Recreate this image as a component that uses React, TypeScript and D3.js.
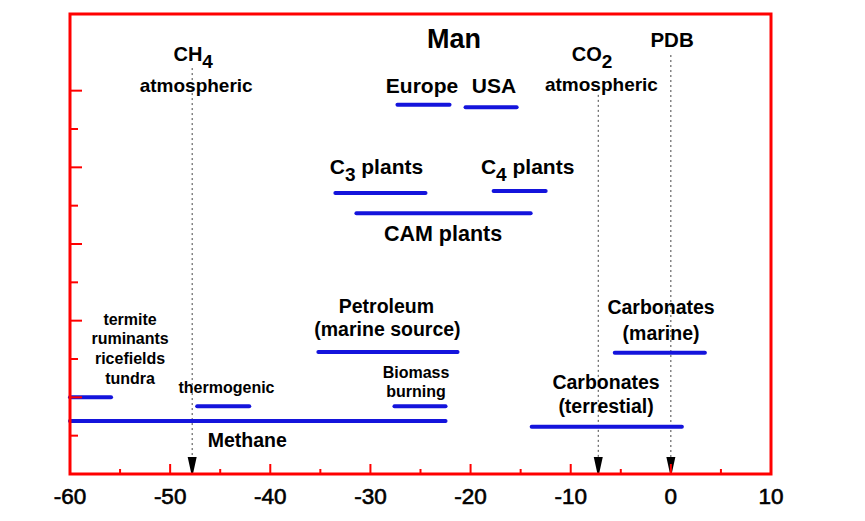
import React from "react";
import * as d3 from "d3";

// ---- data (delta 13C, per mil) ----
const xTicksMajor = [-60, -50, -40, -30, -20, -10, 0, 10];
const xTicksMinor = [-55, -45, -35, -25, -15, -5, 5];
const yTicks = [1, 2, 3, 4, 5, 6, 7, 8, 9, 10];

const rangeNames = ["Europe", "USA", "C3", "C4", "CAM", "Petroleum", "Biomass", "Methane", "termite", "thermogenic", "CarbTerr", "CarbMarine"];
const rangeStart = [-27.3, -20.5, -33.5, -17.7, -31.4, -35.2, -27.6, -60, -60, -47.3, -13.9, -5.6];
const rangeEnd = [-22.1, -15.4, -24.5, -12.5, -14.0, -21.3, -22.5, -22.5, -55.9, -42.1, 1.1, 3.4];
const rangeLevel = [9.63, 9.57, 7.33, 7.38, 6.8, 3.18, 1.77, 1.38, 2.0, 1.77, 1.23, 3.16];

const refNames = ["CH4", "CO2", "PDB"];
const refValues = [-47.8, -7.25, 0];
const refTop = [10.59, 9.89, 10.93];

// label anchors (data units)
type Lab = { t: string; sub?: string; rest?: string; x: number; y: number; size: number; subSize?: number };
const labels: Lab[] = [
  { t: "Man", x: -21.65, y: 11.11, size: 27 },
  { t: "Europe", x: -24.85, y: 9.94, size: 21 },
  { t: "USA", x: -17.66, y: 9.94, size: 21 },
  { t: "CH", sub: "4", x: -47.7, y: 10.77, size: 20, subSize: 19 },
  { t: "atmospheric", x: -47.4, y: 9.97, size: 19 },
  { t: "CO", sub: "2", x: -7.87, y: 10.77, size: 20, subSize: 19 },
  { t: "atmospheric", x: -6.93, y: 9.99, size: 19 },
  { t: "PDB", x: 0.12, y: 11.14, size: 20.5 },
  { t: "C", sub: "3", rest: " plants", x: -29.4, y: 7.83, size: 21, subSize: 19 },
  { t: "C", sub: "4", rest: " plants", x: -14.3, y: 7.83, size: 21, subSize: 19 },
  { t: "CAM plants", x: -22.75, y: 6.08, size: 21.5 },
  { t: "Petroleum", x: -28.4, y: 4.2, size: 19.5 },
  { t: "(marine source)", x: -28.3, y: 3.6, size: 19.5 },
  { t: "Biomass", x: -25.45, y: 2.5, size: 16 },
  { t: "burning", x: -25.45, y: 2.01, size: 16 },
  { t: "termite", x: -54.0, y: 3.89, size: 16 },
  { t: "ruminants", x: -54.0, y: 3.39, size: 16 },
  { t: "ricefields", x: -54.0, y: 2.87, size: 16 },
  { t: "tundra", x: -54.0, y: 2.35, size: 16 },
  { t: "thermogenic", x: -44.37, y: 2.11, size: 16 },
  { t: "Methane", x: -42.3, y: 0.7, size: 19.5 },
  { t: "Carbonates", x: -0.98, y: 4.17, size: 19.5 },
  { t: "(marine)", x: -0.98, y: 3.5, size: 19.5 },
  { t: "Carbonates", x: -6.47, y: 2.22, size: 19.5 },
  { t: "(terrestial)", x: -6.47, y: 1.59, size: 19.5 },
];

const W = 865;
const H = 521;
const FONT = "'Liberation Sans', Arial, Helvetica, sans-serif";
const RED = "#ff0000";
const BLUE = "#1414dc";

export default function App() {
  const x = d3.scaleLinear().domain([-60, 10]).range([70, 771]);
  const y = d3.scaleLinear().domain([0, 12]).range([474, 14]);
  const [x0, x1] = x.range();
  const [yb, yt] = y.range();

  const arrow = (cx: number) => {
    const p = d3.path();
    p.moveTo(cx - 4.5, yb - 17);
    p.lineTo(cx + 4.5, yb - 17);
    p.lineTo(cx + 1, yb - 1);
    p.lineTo(cx - 1, yb - 1);
    p.closePath();
    return p.toString();
  };

  return (
    <svg width={W} height={H} style={{ position: "absolute", left: 0, top: 0, background: "#fff" }}>
      {/* reference lines */}
      {refNames.map((n, i) => (
        <g key={n}>
          <line x1={x(refValues[i])} x2={x(refValues[i])} y1={y(refTop[i])} y2={yb - 16}
            stroke="#444" strokeWidth={1} strokeDasharray="2,3" />
          <path d={arrow(x(refValues[i]))} fill="#000" />
        </g>
      ))}

      {/* ranges */}
      {rangeNames.map((n, i) => (
        <line key={n} x1={x(rangeStart[i])} x2={x(rangeEnd[i])} y1={y(rangeLevel[i])} y2={y(rangeLevel[i])}
          stroke={BLUE} strokeWidth={4} strokeLinecap="round" />
      ))}

      {/* frame */}
      <rect x={x0} y={yt} width={x1 - x0} height={yb - yt} fill="none" stroke={RED} strokeWidth={3} />

      {/* y ticks */}
      {yTicks.map((v) => (
        <line key={"y" + v} x1={x0} x2={x0 + (v % 2 === 0 ? 12 : 8)} y1={y(v)} y2={y(v)} stroke={RED} strokeWidth={2} />
      ))}
      {/* x ticks */}
      {xTicksMajor.filter((v) => v > -60 && v < 10).map((v) => (
        <line key={"xm" + v} x1={x(v)} x2={x(v)} y1={yb} y2={yb - 10} stroke={RED} strokeWidth={2} />
      ))}
      {xTicksMinor.map((v) => (
        <line key={"xn" + v} x1={x(v)} x2={x(v)} y1={yb} y2={yb - 5} stroke={RED} strokeWidth={2} />
      ))}
      {xTicksMajor.map((v) => (
        <text key={"xl" + v} x={x(v)} y={yb + 30} textAnchor="middle" fontFamily={FONT} fontSize={22.5}
          fill="#000" stroke="#000" strokeWidth={0.6}>
          {v}
        </text>
      ))}

      {/* labels */}
      {labels.map((l, i) => (
        <text key={"l" + i} x={x(l.x)} y={y(l.y)} textAnchor="middle" fontFamily={FONT} fontWeight="bold"
          fontSize={l.size} fill="#000">
          {l.t}
          {l.sub && (
            <tspan fontSize={l.subSize} dy={7}>{l.sub}</tspan>
          )}
          {l.sub && l.rest && <tspan dy={-7}>{l.rest}</tspan>}
        </text>
      ))}
    </svg>
  );
}
